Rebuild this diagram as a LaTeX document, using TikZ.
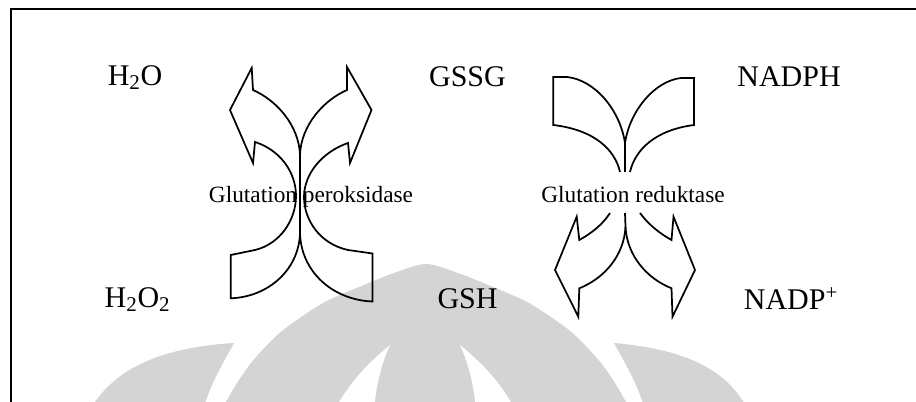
\documentclass[tikz,border=0pt]{standalone}
\usepackage{fontspec}
\setmainfont{Liberation Serif}
\definecolor{wm}{RGB}{212,212,212}
\begin{document}
\begin{tikzpicture}[x=0.75pt,y=-0.75pt,
  chem/.style={font=\fontsize{22.5}{26}\selectfont, anchor=base, inner sep=0pt},
  enz/.style={font=\fontsize{17.5}{20}\selectfont, anchor=base, inner sep=0pt},
  band/.style={draw=black, line width=1.3pt, line join=miter},
  wmark/.style={fill=wm, draw=none},
  paper/.style={fill=white, draw=none},
  framel/.style={draw=black, line width=1.5pt}]
\useasboundingbox (0,0) rectangle (916,402);
\clip (0,0) rectangle (916,402);
% watermark
\fill[wmark] plot[smooth] coordinates {(222,410) (226,402) (237,383) (251,363) (269,343) (287,327) (323,303) (359,287) (394,273) (426,264) (458,273) (493,287) (529,303) (565,327) (583,343) (601,363) (615,383) (626,402) (630,410)} -- cycle;
\fill[paper] (390,345) .. controls (372,360) and (350,380) .. (335,410) -- (374,410) .. controls (376,385) and (382,362) .. (390,345) -- cycle;
\fill[paper] (460,345) .. controls (468,362) and (474,385) .. (476,410) -- (515,410) .. controls (500,380) and (478,360) .. (460,345) -- cycle;
\fill[wmark] (90,410) .. controls (110,375) and (150,348) .. (234,343) .. controls (222,365) and (210,385) .. (203,410) -- cycle;
\fill[wmark] (748,410) .. controls (730,375) and (695,350) .. (614,343) .. controls (626,365) and (638,385) .. (645,410) -- cycle;
% frame
\draw[framel] (916,9.5) -- (11,9.5) -- (11,410);
% labels
\node[chem] (h2o) at (135,85.5) {H\textsubscript{2}O};
\node[chem] (gssg) at (467.5,86.5) {GSSG};
\node[chem] (nadph) at (789,86.5) {NADPH};
\node[chem] (h2o2) at (137.5,307) {H\textsubscript{2}O\textsubscript{2}};
\node[chem] (gsh) at (467.5,308) {GSH};
\node[chem] (nadp) at (791,310) {NADP\textsuperscript{+}};
% glutation peroksidase arrows
\draw[band] (253,90) -- (251.7,68) -- (230,110) -- (253,163) -- (255,142)
  .. controls (280,150) and (296,172) .. (296,196)
  .. controls (296,220) and (280,244) .. (255,250)
  -- (230.7,255) -- (230.7,298.3)
  .. controls (268,297) and (299,270) .. (300,233)
  -- (300,155)
  .. controls (299,125) and (276,100) .. (253,90) -- cycle;
\draw[band] (347,90) -- (347,67) -- (371.5,110) -- (350,163) -- (348,143)
  .. controls (322,152) and (304,174) .. (304,197)
  .. controls (304,220) and (320,244) .. (348,250)
  -- (372.5,253.5) -- (372.5,301.5)
  .. controls (333,300) and (301,272) .. (300,233)
  -- (300,155)
  .. controls (301,125) and (324,100) .. (347,90) -- cycle;
\node[enz] (gpx) at (311,203) {Glutation peroksidase};
% glutation reduktase
\draw[band] (620,172) .. controls (615,150) and (595,130) .. (553.3,125)
  -- (553.3,77) -- (567,77) .. controls (595,80) and (620,110) .. (625,143) -- (625,172);
\draw[band] (630,172) .. controls (635,150) and (655,130) .. (694,125)
  -- (694,78) -- (681,78) .. controls (655,81) and (630,110) .. (625,143);
\draw[band] (610,213) .. controls (603,224) and (592,233) .. (579.3,240)
  -- (576.7,216.7) -- (555,270) -- (578.3,316.7) -- (579.3,288.3)
  .. controls (605,278) and (624,255) .. (625.5,227) -- (625,213);
\draw[band] (640,213) .. controls (648,224) and (659,233) .. (671.5,240)
  -- (673.5,216.7) -- (695,270) -- (672.5,316.7) -- (671.5,288.3)
  .. controls (646,278) and (627,255) .. (625.5,227);
\node[enz] (grd) at (633,202.5) {Glutation reduktase};
\end{tikzpicture}
\end{document}
